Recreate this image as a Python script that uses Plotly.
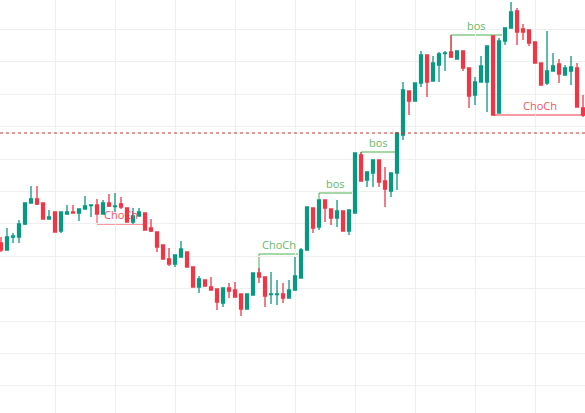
import plotly.graph_objects as go

# candles in screen-y units: (dir, body_top, body_bot, wick_top, wick_bot)
candles = [
("r",243,250,237,252),("g",237,250,228,250),("g",236,237,233,243),("g",224,237,220,243),("g",203,224,203,225),
("g",199,203,186,203),("r",199,204,186,205),("r",203,219,203,219),("g",217,219,210,219),("r",212,232,212,232),
("g",212,231,212,233),("g",212,214,205,214),("r",212,213,205,213),("g",209,213,209,221),("g",206,209,196,209),
("g",205,205.6,205,217),("r",205,214,199,214),("g",203,214,200,214),("r",203,206,194,207),("g",206,206.6,193,212),
("r",204,207,197,209),("r",208,222,208,222),("g",216,222,208,224),("g",212,216,208,216),("r",213,230,213,230),
("r",228,231,219,232),("r",232,247,232,252),("r",245,259,245,259),("r",259,264,248,266),("g",255,264,255,267),
("g",249,257,241,257),("r",252,267,252,267),("r",267,287,267,287),("g",279,287,276,293),("r",280,286,280,286),
("r",287,290,277,290),("r",289,302,289,310),("g",288,303,288,307),("r",288,291,283,298),("r",290,297,282,297),
("r",294,309,294,316),("g",294,309,294,309),("g",273,295,273,295),("r",273,277,268,283),("r",277,296,277,307),
("g",294,294.6,272,304),("g",294,294.6,280,305),("r",294,298,283,303),("g",290,298,280,298),("g",276,290,257,290),
("g",250,278,248,278),("g",207,250,207,250),("r",208,228,208,233),("g",200,227,200,230),("r",200,208,200,222),
("r",209,218,209,225),("g",211,218,200,227),("r",211,231,211,231),("g",210,231,210,235),("g",153,213,153,213),
("r",155,181,152,181),("g",172,180,172,187),("g",160,173,160,187),("r",160,182,160,187),("r",181,189,167,207),
("g",173,191,173,197),("g",133,173,133,190),("g",90,135,82,140),("r",91,101,91,115),("g",83,101,83,101),
("g",55,83,51,87),("r",55,82,55,97),("g",63,81,56,81),("g",54,65,52,82),("g",53,53.6,51,71),
("r",52,57,35,58),("g",51,59,51,59),("r",51,68,51,71),("r",68,96,68,108),("g",82,95,77,105),
("g",66,82,56,82),("g",46,82,46,112),("r",36,115,36,115),("g",41,113,38,113),("g",28,41,28,45),
("g",12,28,2,28),("r",11,32,8,45),("r",29,32,24,40),("r",30,43,30,46),("r",42,63,42,63),
("r",63,85,63,85),("g",71,83,31,85),("g",66,71,53,71),("r",64,74,59,83),("g",68,75,65,75),
("g",67,71,56,85),("r",68,107,63,107),("r",108,115,95,117),
]
H = 413  # screen height; price = H - screen_y
idx = list(range(len(candles)))
opens = [H-(c[2] if c[0]=="g" else c[1]) for c in candles]
closes = [H-(c[1] if c[0]=="g" else c[2]) for c in candles]
highs = [H-c[3] for c in candles]
lows = [H-c[4] for c in candles]

level_line = H-133
# structure marks: (label, colour, start idx, end idx, level, anchor price)
marks = [
("ChoCh","#f23645",16,24,224,205),
("ChoCh","#4caf50",43,49.5,254,273),
("bos","#4caf50",53,58.5,193,200),
("bos","#4caf50",60,65.7,152,155),
("bos","#4caf50",75,83.5,35,52),
("ChoCh","#f23645",82,97.5,115,36),
]

fig = go.Figure(go.Candlestick(x=idx, open=opens, high=highs, low=lows, close=closes,
    increasing=dict(line=dict(color="#089981", width=1.3), fillcolor="#089981"),
    decreasing=dict(line=dict(color="#f23645", width=1.3), fillcolor="#f23645"),
    whiskerwidth=0, hoverinfo="skip"))

shapes = [dict(type="line", xref="paper", x0=0, x1=1, y0=level_line, y1=level_line,
               line=dict(color="#d03030", width=1, dash="dot"))]
anns = []
for lab, col, a, b, lev, anc in marks:
    shapes.append(dict(type="line", x0=a, x1=b, y0=H-lev, y1=H-lev, line=dict(color=col, width=1), layer="below"))
    shapes.append(dict(type="line", x0=a, x1=a, y0=H-lev, y1=H-anc, line=dict(color=col, width=1), layer="below"))
    anns.append(dict(x=(a+b)/2, y=H-lev, text=lab, showarrow=False, yanchor="bottom",
                     font=dict(family="Open Sans", size=11, color=col), opacity=0.85))

fig.update_layout(width=585, height=413, margin=dict(l=0, r=0, t=0, b=0, pad=0),
    plot_bgcolor="white", paper_bgcolor="white", showlegend=False,
    shapes=shapes, annotations=anns,
    xaxis=dict(range=[-1/6, 97.33], showticklabels=False, rangeslider=dict(visible=False),
               showgrid=True, gridcolor="#efefef", tick0=9, dtick=10, zeroline=False),
    yaxis=dict(range=[0, H], showticklabels=False, showgrid=True, gridcolor="#efefef",
               tick0=H-159, dtick=32.4, zeroline=False))
fig.write_html("out.html", config={"displayModeBar": False},
               post_script="document.body.style.margin='0';document.body.style.overflow='hidden';")
